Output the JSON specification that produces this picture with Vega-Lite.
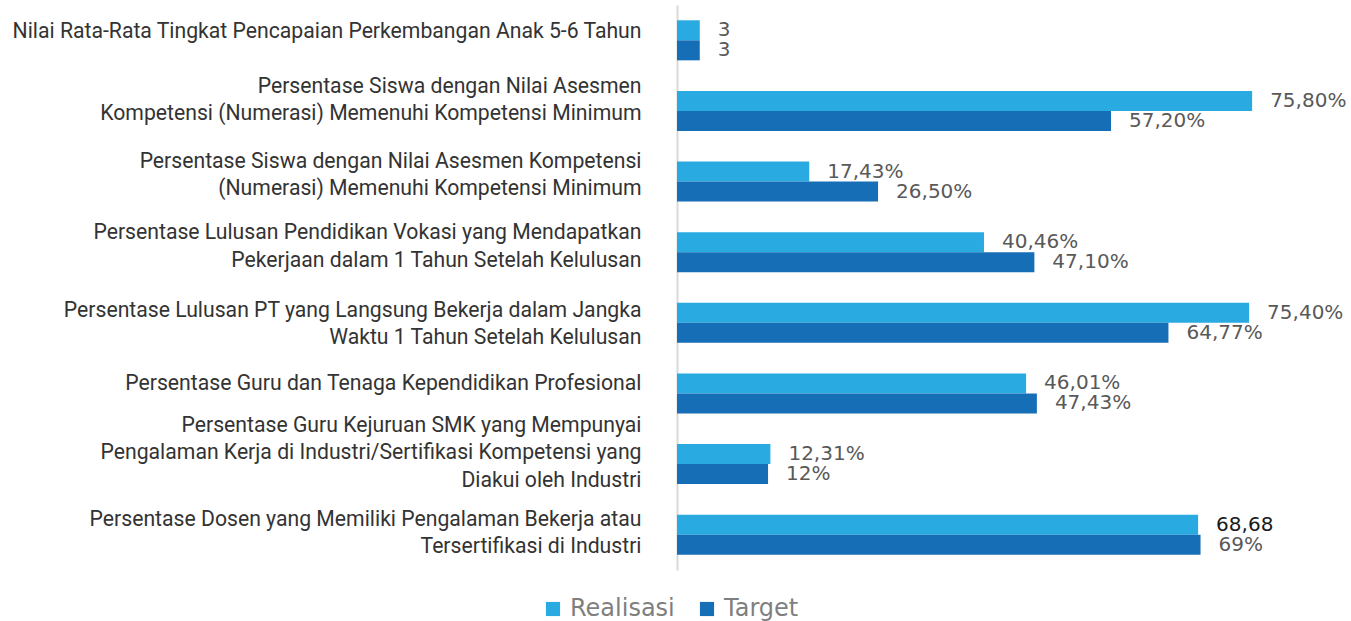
{
  "$schema": "https://vega.github.io/schema/vega-lite/v6.json",
  "width": 607,
  "height": 565,
  "autosize": {"type": "none"},
  "padding": {"left": 677, "top": 5, "right": 67, "bottom": 51},
  "config": {"view": {"stroke": null}},
  "data": {
    "values": [
      {"indikator": "Nilai Rata-Rata Tingkat Pencapaian Perkembangan Anak 5-6 Tahun", "seri": "Realisasi", "nilai": 3, "label": "3"},
      {"indikator": "Nilai Rata-Rata Tingkat Pencapaian Perkembangan Anak 5-6 Tahun", "seri": "Target", "nilai": 3, "label": "3"},
      {"indikator": "Persentase Siswa dengan Nilai Asesmen|Kompetensi (Numerasi) Memenuhi Kompetensi Minimum", "seri": "Realisasi", "nilai": 75.8, "label": "75,80%"},
      {"indikator": "Persentase Siswa dengan Nilai Asesmen|Kompetensi (Numerasi) Memenuhi Kompetensi Minimum", "seri": "Target", "nilai": 57.2, "label": "57,20%"},
      {"indikator": "Persentase Siswa dengan Nilai Asesmen Kompetensi|(Numerasi) Memenuhi Kompetensi Minimum", "seri": "Realisasi", "nilai": 17.43, "label": "17,43%"},
      {"indikator": "Persentase Siswa dengan Nilai Asesmen Kompetensi|(Numerasi) Memenuhi Kompetensi Minimum", "seri": "Target", "nilai": 26.5, "label": "26,50%"},
      {"indikator": "Persentase Lulusan Pendidikan Vokasi yang Mendapatkan|Pekerjaan dalam 1 Tahun Setelah Kelulusan", "seri": "Realisasi", "nilai": 40.46, "label": "40,46%"},
      {"indikator": "Persentase Lulusan Pendidikan Vokasi yang Mendapatkan|Pekerjaan dalam 1 Tahun Setelah Kelulusan", "seri": "Target", "nilai": 47.1, "label": "47,10%"},
      {"indikator": "Persentase Lulusan PT yang Langsung Bekerja dalam Jangka|Waktu 1 Tahun Setelah Kelulusan", "seri": "Realisasi", "nilai": 75.4, "label": "75,40%"},
      {"indikator": "Persentase Lulusan PT yang Langsung Bekerja dalam Jangka|Waktu 1 Tahun Setelah Kelulusan", "seri": "Target", "nilai": 64.77, "label": "64,77%"},
      {"indikator": "Persentase Guru dan Tenaga Kependidikan Profesional", "seri": "Realisasi", "nilai": 46.01, "label": "46,01%"},
      {"indikator": "Persentase Guru dan Tenaga Kependidikan Profesional", "seri": "Target", "nilai": 47.43, "label": "47,43%"},
      {"indikator": "Persentase Guru Kejuruan SMK yang Mempunyai|Pengalaman Kerja di Industri/Sertifikasi Kompetensi yang|Diakui oleh Industri", "seri": "Realisasi", "nilai": 12.31, "label": "12,31%"},
      {"indikator": "Persentase Guru Kejuruan SMK yang Mempunyai|Pengalaman Kerja di Industri/Sertifikasi Kompetensi yang|Diakui oleh Industri", "seri": "Target", "nilai": 12, "label": "12%"},
      {"indikator": "Persentase Dosen yang Memiliki Pengalaman Bekerja atau|Tersertifikasi di Industri", "seri": "Realisasi", "nilai": 68.68, "label": "68,68"},
      {"indikator": "Persentase Dosen yang Memiliki Pengalaman Bekerja atau|Tersertifikasi di Industri", "seri": "Target", "nilai": 69, "label": "69%"}
    ]
  },
  "encoding": {
    "y": {
      "field": "indikator",
      "type": "nominal",
      "sort": null,
      "scale": {"paddingInner": 0.433, "paddingOuter": 0.2165},
      "axis": {
        "title": null,
        "ticks": false,
        "domainColor": "#d9d9d9",
        "domainWidth": 2,
        "labelPadding": 36,
        "labelLimit": 0,
        "labelFont": "Roboto",
        "labelFontSize": 21.2,
        "labelColor": "#333333",
        "labelLineHeight": 27.5,
        "labelOffset": {
          "condition": [
            {"test": "indexof(datum.value, 'Asesmen|') >= 0", "value": -24},
            {"test": "indexof(datum.value, 'Kompetensi|') >= 0", "value": -20},
            {"test": "indexof(datum.value, 'Mendapatkan') >= 0", "value": -19},
            {"test": "indexof(datum.value, 'Jangka') >= 0", "value": -12},
            {"test": "indexof(datum.value, 'Profesional') >= 0", "value": -9.5},
            {"test": "indexof(datum.value, 'SMK') >= 0", "value": -38.5},
            {"test": "indexof(datum.value, 'Dosen') >= 0", "value": -15}
          ],
          "value": -8.5
        },
        "labelExpr": "split(datum.label, '|')"
      }
    },
    "yOffset": {"field": "seri", "type": "nominal", "sort": ["Realisasi", "Target"]},
    "x": {"field": "nilai", "type": "quantitative", "scale": {"domain": [0, 80], "nice": false}, "axis": null}
  },
  "layer": [
    {
      "mark": {"type": "bar"},
      "encoding": {
        "color": {
          "field": "seri",
          "type": "nominal",
          "scale": {"domain": ["Realisasi", "Target"], "range": ["#29ABE2", "#166EB6"]},
          "legend": {
            "title": null,
            "orient": "none",
            "direction": "horizontal",
            "legendX": -136,
            "legendY": 592,
            "symbolType": "square",
            "symbolSize": 200,
            "symbolStrokeWidth": 0,
            "labelFont": "DejaVu Sans",
            "labelFontSize": 24,
            "labelColor": "#7f7f7f",
            "columnPadding": 20,
            "labelOffset": 5
          }
        }
      }
    },
    {
      "mark": {"type": "text", "align": "left", "baseline": "middle", "dx": 18, "font": "DejaVu Sans", "fontSize": 20},
      "encoding": {
        "text": {"field": "label"},
        "color": {
          "condition": {"test": "datum.label == '68,68'", "value": "#1a1a1a"},
          "value": "#595959"
        }
      }
    }
  ]
}
